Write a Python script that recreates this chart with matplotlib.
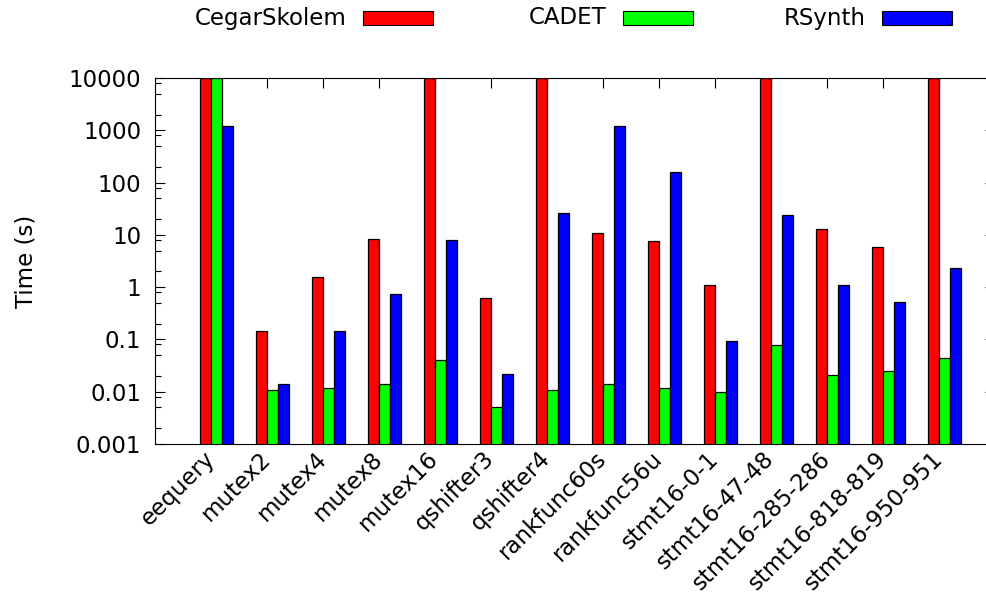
import numpy as np
import matplotlib
matplotlib.use("Agg")
import matplotlib.pyplot as plt
from matplotlib.patches import Rectangle
from matplotlib.ticker import LogLocator, NullFormatter, FixedLocator

benchmarks = ["eequery", "mutex2", "mutex4", "mutex8", "mutex16", "qshifter3",
              "qshifter4", "rankfunc60s", "rankfunc56u", "stmt16-0-1",
              "stmt16-47-48", "stmt16-285-286", "stmt16-818-819", "stmt16-950-951"]

# runtimes in seconds, 10000 = timeout
cegar_skolem = [10000, 0.144, 1.57, 8.4, 10000, 0.62, 10000, 10.8, 7.7, 1.09,
                10000, 12.8, 5.8, 10000]
cadet = [10000, 0.0109, 0.0119, 0.0142, 0.041, 0.0049, 0.0109, 0.014, 0.0119, 0.0099,
         0.078, 0.021, 0.025, 0.044]
rsynth = [1210, 0.0142, 0.144, 0.73, 8.0, 0.022, 26.7, 1210, 160, 0.094,
          24.1, 1.1, 0.51, 2.3]

series = ["CegarSkolem", "CADET", "RSynth"]
colors = ["#ff0000", "#00ff00", "#0000ff"]

plt.rcParams["font.family"] = "DejaVu Sans"
plt.rcParams["font.size"] = 16.5

W, H = 987, 599
fig = plt.figure(figsize=(W / 100, H / 100), dpi=100)
ax = fig.add_axes([155 / W, 1 - 444 / H, 840 / W, 366 / H])

x = np.arange(len(benchmarks))
width = 0.2
offsets = [-0.1, 0.1, 0.3]
for vals, off, col in zip([cegar_skolem, cadet, rsynth], offsets, colors):
    ax.bar(x + off, vals, width, bottom=0.0001, color=col, edgecolor="black",
           linewidth=0.9, zorder=2)

ax.set_yscale("log")
ax.set_ylim(0.001, 10000)
ax.set_xlim(-1, len(benchmarks))
ax.set_axisbelow(True)

yt = [0.001, 0.01, 0.1, 1, 10, 100, 1000, 10000]
ax.yaxis.set_major_locator(FixedLocator(yt))
ax.set_yticklabels(["0.001", "0.01", "0.1", "1", "10", "100", "1000", "10000"])
ax.yaxis.set_minor_locator(LogLocator(base=10, subs=[2, 5, 8]))
ax.yaxis.set_minor_formatter(NullFormatter())

ax.set_xticks(x)
ax.set_xticklabels(benchmarks, rotation=45, ha="right", va="center",
                   rotation_mode="anchor")
ax.tick_params(axis="both", which="major", direction="in", length=7.5,
               width=0.8, top=True, right=True, pad=10)
ax.tick_params(axis="y", which="minor", direction="in", length=4, width=0.8,
               right=True)
ax.tick_params(axis="x", pad=8)

for sp in ax.spines.values():
    sp.set_linewidth(0.8)

ax.set_ylabel("Time (s)", labelpad=22)

# key along the top, text right-justified before each swatch
for k, (name, col) in enumerate(zip(series, colors)):
    bx = 363 + 259.5 * k
    fig.text((bx - 16) / W, 1 - 18 / H, name, ha="right", va="center")
    fig.patches.append(Rectangle((bx / W, 1 - 25 / H), 70 / W, 14 / H,
                                 facecolor=col, edgecolor="black", linewidth=0.8,
                                 transform=fig.transFigure, figure=fig))

fig.savefig("out.png", dpi=100)
